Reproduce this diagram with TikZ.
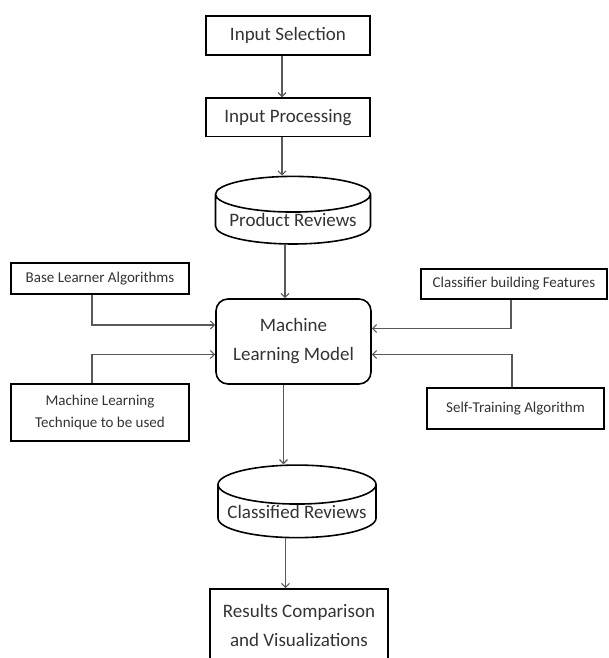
\documentclass[tikz,border=0pt]{standalone}
\usepackage{fontspec}
\setmainfont{Carlito}
\usetikzlibrary{arrows.meta,positioning,shapes.geometric}
\tikzset{
    every node/.style={text=black!80},
    big node/.style={font=\fontsize{19}{29}\selectfont},
    small node/.style={font=\fontsize{15}{22}\selectfont},
    main box/.style={shape=rectangle, draw=black, line width=1.6pt,
        align=center, inner sep=0pt},
    db node/.style={shape=cylinder, shape border rotate=90, aspect=0.28,
        draw=black, line width=1.6pt, align=center, inner sep=0pt},
    flow/.style={draw=black!65, line width=1.1pt,
        -{Straight Barb[length=4pt,width=8pt]}}
}

\begin{document}
\begin{tikzpicture}[x=1pt,y=-1pt]
    \useasboundingbox (0,0) rectangle (609,658);

    % main column
    \node[main box,big node,minimum width=164pt,minimum height=39pt] (insel) at (288,35.5) {Input Selection};
    \node[main box,big node,minimum width=164pt,minimum height=38.5pt,below=41.5pt of insel] (inproc) {Input Processing};
    \node[db node,big node,minimum width=155pt,minimum height=65pt] (prodrev) at (293,219.5) {Product Reviews};
    \node[main box,big node,rounded corners=12pt,minimum width=155pt,minimum height=85pt] (mlmodel) at (293.5,341.5) {Machine\\Learning Model};
    \node[db node,big node,minimum width=158pt,minimum height=63pt] (clsrev) at (297,511.5) {Classified Reviews};
    \node[main box,big node,minimum width=178pt,minimum height=72pt] (results) at (299,625) {Results Comparison\\and Visualizations};

    % inputs to the model
    \node[main box,small node,minimum width=178pt,minimum height=31pt] (baselearn) at (100,278.5) {Base Learner Algorithms};
    \node[main box,small node,minimum width=178pt,minimum height=57pt] (mltech) at (100,412.5) {Machine Learning\\Technique to be used};
    \node[main box,small node,minimum width=186pt,minimum height=30pt] (clsfeat) at (514,284) {Classifier building Features};
    \node[main box,small node,minimum width=177pt,minimum height=41pt] (selftrain) at (515.5,408.5) {Self-Training Algorithm};

    \draw[flow] ([xshift=-6pt]insel.south) -- ([xshift=-6pt]insel.south |- inproc.north);
    \draw[flow] ([xshift=-6pt]inproc.south) -- ([xshift=-6pt]inproc.south |- prodrev.north);
    \draw[flow] ([xshift=-8pt]prodrev.south) -- ([xshift=-8pt]prodrev.south |- mlmodel.north);
    \draw[flow] ([xshift=-10pt]mlmodel.south) -- ([xshift=-10pt]mlmodel.south |- clsrev.north);
    \draw[flow] ([xshift=-11.5pt]clsrev.south) -- ([xshift=-11.5pt]clsrev.south |- results.north);

    \draw[flow] ([xshift=-8pt]baselearn.south) |- ([yshift=16.5pt]mlmodel.west);
    \draw[flow] ([xshift=-8pt]mltech.north) |- ([yshift=-13pt]mlmodel.west);
    \draw[flow] ([xshift=-3pt]clsfeat.south) |- ([yshift=13pt]mlmodel.east);
    \draw[flow] ([xshift=-3.5pt]selftrain.north) |- ([yshift=-13pt]mlmodel.east);
\end{tikzpicture}
\end{document}
